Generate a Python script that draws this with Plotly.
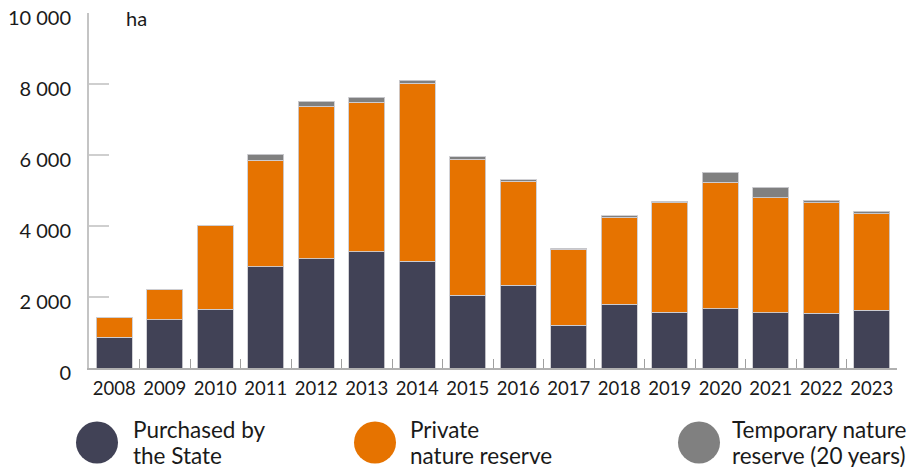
import plotly.graph_objects as go

years = [str(y) for y in range(2008, 2024)]
purchased = [867, 1365, 1658, 2853, 3079, 3268, 3003, 2043, 2325, 1205, 1789, 1573, 1676, 1563, 1544, 1620]
private_total = [1421, 2203, 4011, 5847, 7373, 7486, 8023, 5876, 5254, 3352, 4247, 4652, 5235, 4793, 4652, 4341]
stack_total = [1421, 2203, 4011, 6017, 7514, 7627, 8107, 5952, 5302, 3380, 4284, 4699, 5518, 5094, 4727, 4417]
private = [t - p for t, p in zip(private_total, purchased)]
temporary = [t - p for t, p in zip(stack_total, private_total)]

y_tickvals = [0, 2000, 4000, 6000, 8000, 10000]
y_ticktext = ["0", "2 000", "4 000", "6 000", "8 000", "10 000"]

series_lines = [["Purchased by", "the State"], ["Private", "nature reserve"], ["Temporary nature", "reserve (20 years)"]]
colors = ["#414256", "#E67300", "#808080"]

FONT = "Lato, 'Open Sans', sans-serif"

fig = go.Figure()
for vals, lines, col in zip([purchased, private, temporary], series_lines, colors):
    fig.add_trace(go.Bar(
        x=years, y=vals, name=" ".join(lines),
        marker=dict(color=col, line=dict(color="rgba(205,205,210,0.9)", width=1)),
        showlegend=False,
    ))

fig.update_layout(
    barmode="stack",
    bargap=0.29,
    width=923, height=467,
    margin=dict(l=89, r=26, t=13, b=99),
    plot_bgcolor="white", paper_bgcolor="white",
    font=dict(family=FONT, size=18, color="#1a1a1a"),
    showlegend=False,
)
fig.update_yaxes(
    range=[0, 10000], tickvals=y_tickvals, ticktext=y_ticktext,
    showgrid=False, zeroline=False, automargin=False,
    showline=True, linecolor="#c4c4c4", linewidth=2,
    ticks="inside", ticklen=20, tickcolor="#cfcfcf", tickwidth=2,
    tickfont=dict(size=20, family=FONT, color="#1a1a1a"),
    ticklabelstandoff=12, ticklabelshift=5, ticklabeloverflow="allow",
)
fig.update_xaxes(
    type="category", showgrid=False, zeroline=False, automargin=False,
    showline=True, linecolor="#b0b0b0", linewidth=2,
    ticks="inside", tickson="boundaries", ticklen=9, tickcolor="#a0a0a0", tickwidth=1,
    tickfont=dict(size=18.5, family=FONT, color="#1a1a1a"),
    tickangle=0, ticklabelstandoff=3,
)

def py(pix):
    return (368 - pix) / 355

fig.add_annotation(x=0.043, y=py(18), xref="paper", yref="paper", text="ha",
                   showarrow=False, xanchor="left", yanchor="middle",
                   font=dict(size=20, family=FONT, color="#1a1a1a"))

# manual legend
circle_px = [97, 375, 699]
text_px = [131, 408, 730]
for cxp, txp, lines, col in zip(circle_px, text_px, series_lines, colors):
    fig.add_shape(type="circle", xref="paper", yref="paper",
                  xsizemode="pixel", ysizemode="pixel",
                  xanchor=(cxp - 89) / 808, yanchor=py(442.5),
                  x0=-21, x1=21, y0=-21, y1=21,
                  fillcolor=col, line=dict(width=0))
    for line, ypix in zip(lines, [429.5, 455.5]):
        fig.add_annotation(x=(txp - 89) / 808, y=py(ypix), xref="paper", yref="paper", text=line,
                           showarrow=False, xanchor="left", yanchor="middle", align="left",
                           font=dict(size=22.5, family=FONT, color="#1a1a1a"))

fig.write_html("out.html", post_script="document.body.style.margin='0';",
               config={"displayModeBar": False})
